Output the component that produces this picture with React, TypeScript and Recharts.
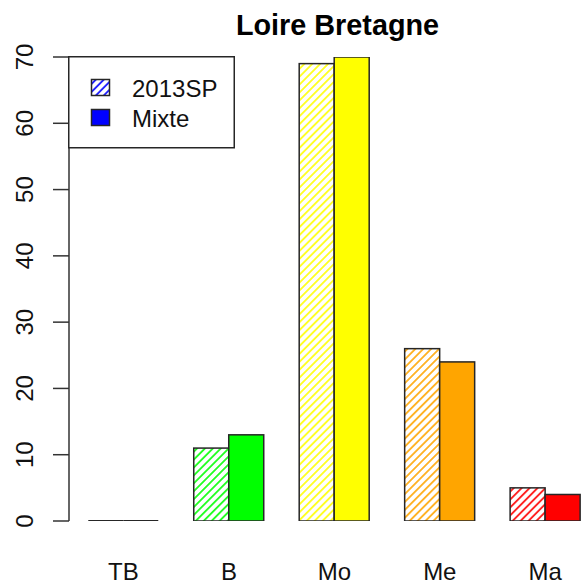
import React from 'react';
import { BarChart, Bar, XAxis, YAxis, Legend } from 'recharts';

const categories = ['TB', 'B', 'Mo', 'Me', 'Ma'];
const sp2013 = [0, 11, 69, 26, 5];
const mixte = [0, 13, 70, 24, 4];
const classColors = ['#0000FF', '#00FF00', '#FFFF00', '#FFA500', '#FF0000'];
const yTicks = [0, 10, 20, 30, 40, 50, 60, 70];

const data = categories.map((c, i) => ({ name: c, sp2013: sp2013[i], mixte: mixte[i] }));

const FONT = '"Liberation Sans", Arial, sans-serif';
const EDGE = '#262626';

const Hatch = ({ id, color }: { id: string; color: string }) => (
  <pattern id={id} patternUnits="userSpaceOnUse" width={5.6} height={5.6} patternTransform="rotate(45)">
    <rect width={5.6} height={5.6} fill="#fff" />
    <line x1={2.8} y1={0} x2={2.8} y2={5.6} stroke={color} strokeWidth={1.6} />
  </pattern>
);

const makeShape = (hatched: boolean) => (props: any) => {
  const { x, y, width, height, index } = props;
  if (!height || Math.abs(height) < 0.5) {
    return <line x1={x} x2={x + width} y1={y} y2={y} stroke={EDGE} strokeWidth={2} />;
  }
  const fill = hatched ? `url(#hatch-${index})` : classColors[index];
  return <rect x={x} y={y} width={width} height={height} fill={fill} stroke={EDGE} strokeWidth={1.5} />;
};

const YTick = (props: any) => {
  const { x, y, payload } = props;
  return (
    <text x={x} y={y} transform={`rotate(-90, ${x}, ${y})`} textAnchor="middle" fontSize={24} fontFamily={FONT} fill="#111">
      {payload.value}
    </text>
  );
};

const XTick = (props: any) => {
  const { x, y, payload } = props;
  return (
    <text x={x} y={y + 59} textAnchor="middle" fontSize={24} fontFamily={FONT} fill="#111">
      {payload.value}
    </text>
  );
};

const LegendBox = () => (
  <svg width={168} height={94} style={{ display: 'block' }}>
    <rect x={0.75} y={0.75} width={165.5} height={91} fill="#fff" stroke={EDGE} strokeWidth={1.5} />
    <rect x={23.5} y={23.5} width={18} height={16} fill="url(#hatch-legend)" stroke={EDGE} strokeWidth={1.5} />
    <text x={64} y={40.5} fontSize={24} fontFamily={FONT} fill="#111">2013SP</text>
    <rect x={23.5} y={53.5} width={18} height={16} fill="#0000FF" stroke={EDGE} strokeWidth={1.5} />
    <text x={64} y={70.5} fontSize={24} fontFamily={FONT} fill="#111">Mixte</text>
  </svg>
);

export default function App() {
  return (
    <div style={{ position: 'absolute', left: 0, top: 0, width: 582, height: 582, overflow: 'hidden', background: '#fff' }}>
      <svg width={0} height={0} style={{ position: 'absolute' }}>
        <defs>
          {classColors.map((c, i) => (
            <Hatch key={i} id={`hatch-${i}`} color={c} />
          ))}
          <Hatch id="hatch-legend" color="#0000FF" />
        </defs>
      </svg>
      <div
        style={{
          position: 'absolute', left: 0, width: 675, top: 10.6, textAlign: 'center',
          fontFamily: FONT, fontWeight: 'bold', fontSize: 28.8, lineHeight: '28.8px', color: '#000',
        }}
      >
        Loire Bretagne
      </div>
      <BarChart
        width={610}
        height={582}
        data={data}
        margin={{ top: 57, right: 12, bottom: 0, left: 0 }}
        barCategoryGap="16.67%"
        barGap={0}
      >
        <XAxis
          dataKey="name"
          height={61}
          axisLine={false}
          tickLine={false}
          tickSize={0}
          tickMargin={0}
          padding={{ left: 1.7, right: 0 }}
          tick={<XTick />}
          interval={0}
        />
        <YAxis
          width={69}
          domain={[0, 70]}
          ticks={yTicks}
          interval={0}
          allowDataOverflow
          tickSize={16}
          tickMargin={20}
          axisLine={{ stroke: '#333', strokeWidth: 1.5 }}
          tickLine={{ stroke: '#333', strokeWidth: 1.5 }}
          tick={<YTick />}
        />
        <Legend
          layout="vertical"
          align="center"
          verticalAlign="middle"
          content={<LegendBox />}
          wrapperStyle={{ top: 56.25, left: 68.25, width: 168 }}
        />
        <Bar dataKey="sp2013" isAnimationActive={false} shape={makeShape(true)} />
        <Bar dataKey="mixte" isAnimationActive={false} shape={makeShape(false)} />
      </BarChart>
    </div>
  );
}
